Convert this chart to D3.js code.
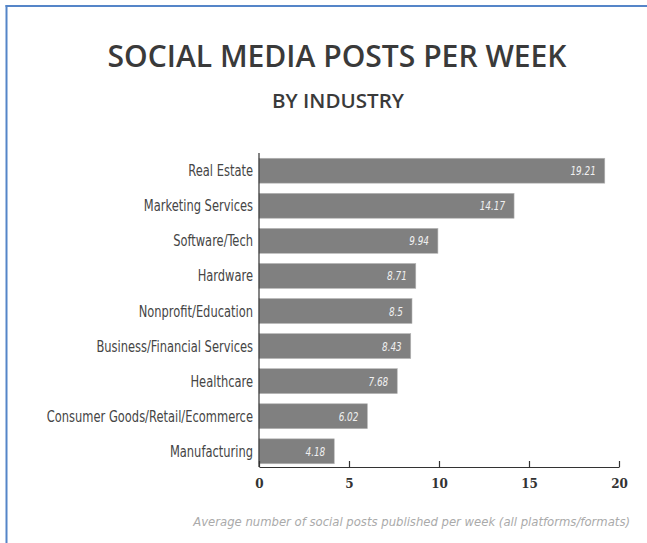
<!DOCTYPE html>
<html lang="en">
<head>
<meta charset="UTF-8">
<title>Social Media Posts Per Week</title>
<script src="https://d3js.org/d3.v7.min.js"></script>
<style>
  body { margin: 0; padding: 0; background: #fff; overflow: hidden; }
  svg { display: block; }
</style>
</head>
<body>
<svg id="chart"></svg>
<script>
  // Data
  const industries = [
    "Real Estate", "Marketing Services", "Software/Tech", "Hardware",
    "Nonprofit/Education", "Business/Financial Services", "Healthcare",
    "Consumer Goods/Retail/Ecommerce", "Manufacturing"
  ];
  const postsPerWeek = [19.21, 14.17, 9.94, 8.71, 8.5, 8.43, 7.68, 6.02, 4.18];
  const xTicks = [0, 5, 10, 15, 20];

  const width = 647, height = 543;
  const svg = d3.select("#chart").attr("width", width).attr("height", height);

  const narrow = "'DejaVu Sans Condensed', 'DejaVu Sans', sans-serif";

  // squeeze text horizontally to mimic the condensed face of the original
  function condense(sel, factor) {
    sel.each(function() {
      const len = this.getComputedTextLength();
      d3.select(this).attr("textLength", len * factor).attr("lengthAdjust", "spacingAndGlyphs");
    });
  }

  // blue frame (left and top only)
  svg.append("line").attr("x1", 6.5).attr("y1", 5).attr("x2", 6.5).attr("y2", height)
    .attr("stroke", "#5585c8").attr("stroke-width", 2);
  svg.append("line").attr("x1", 5.5).attr("y1", 6).attr("x2", width).attr("y2", 6)
    .attr("stroke", "#5585c8").attr("stroke-width", 2);

  // titles
  svg.append("text")
    .attr("x", 337).attr("y", 67)
    .attr("text-anchor", "middle")
    .attr("font-family", "'Open Sans', sans-serif")
    .attr("font-weight", 600)
    .attr("font-size", 30)
    .attr("fill", "#3a3a3a")
    .attr("textLength", 459).attr("lengthAdjust", "spacingAndGlyphs")
    .text("SOCIAL MEDIA POSTS PER WEEK");

  svg.append("text")
    .attr("x", 338).attr("y", 108)
    .attr("text-anchor", "middle")
    .attr("font-family", "'Open Sans', sans-serif")
    .attr("font-weight", 600)
    .attr("font-size", 19)
    .attr("fill", "#3a3a3a")
    .attr("textLength", 132).attr("lengthAdjust", "spacingAndGlyphs")
    .text("BY INDUSTRY");

  // scales
  const x = d3.scaleLinear().domain([0, 20]).range([259, 619]);
  const y = d3.scaleBand().domain(industries).range([153, 469])
    .paddingInner(0.29).paddingOuter(0.15);

  const rows = industries.map((name, i) => ({ name, value: postsPerWeek[i] }));

  // bars
  svg.append("g").selectAll("rect")
    .data(rows)
    .join("rect")
    .attr("x", x(0))
    .attr("y", d => y(d.name))
    .attr("width", d => x(d.value) - x(0))
    .attr("height", y.bandwidth())
    .attr("fill", "#808080")
    .attr("stroke", "#b5b5b5")
    .attr("stroke-width", 0.6);

  // value labels
  svg.append("g").selectAll("text")
    .data(rows)
    .join("text")
    .attr("x", d => x(d.value) - 9)
    .attr("y", d => y(d.name) + y.bandwidth() / 2 + 4.5)
    .attr("text-anchor", "end")
    .attr("font-family", narrow)
    .attr("font-style", "italic")
    .attr("font-size", 12)
    .attr("fill", "#f0f0f0")
    .text(d => d.value)
    .call(condense, 0.82);

  // category labels
  svg.append("g").selectAll("text")
    .data(rows)
    .join("text")
    .attr("x", 253)
    .attr("y", d => y(d.name) + y.bandwidth() / 2 + 5.5)
    .attr("text-anchor", "end")
    .attr("font-family", narrow)
    .attr("font-size", 15)
    .attr("fill", "#454545")
    .text(d => d.name)
    .call(condense, 0.85);

  // y axis line
  svg.append("line")
    .attr("x1", x(0)).attr("x2", x(0))
    .attr("y1", 153).attr("y2", 467)
    .attr("stroke", "#333").attr("stroke-width", 1.2);

  // x axis
  const xAxis = d3.axisBottom(x).tickValues(xTicks).tickSize(-6).tickPadding(16).tickSizeOuter(0);
  const gx = svg.append("g").attr("transform", "translate(0,467)").call(xAxis);
  gx.select(".domain").attr("stroke", "#333").attr("stroke-width", 1.2);
  gx.selectAll(".tick line").attr("stroke", "#333").attr("stroke-width", 1.2);
  gx.selectAll(".tick text")
    .attr("font-family", "'DejaVu Serif', serif")
    .attr("font-weight", 700)
    .attr("font-size", 12)
    .attr("fill", "#333")
    .attr("dy", "0.45em");

  // caption, sized so it spans the same width as in the original
  const caption = svg.append("text")
    .attr("x", 630).attr("y", 526)
    .attr("text-anchor", "end")
    .attr("font-family", narrow)
    .attr("font-style", "italic")
    .attr("font-size", 13.5)
    .attr("fill", "#aaaaaa")
    .text("Average number of social posts published per week (all platforms/formats)");
  const capLen = caption.node().getComputedTextLength();
  caption.attr("font-size", Math.min(13.5, 13.5 * 437 / capLen));
</script>
</body>
</html>
